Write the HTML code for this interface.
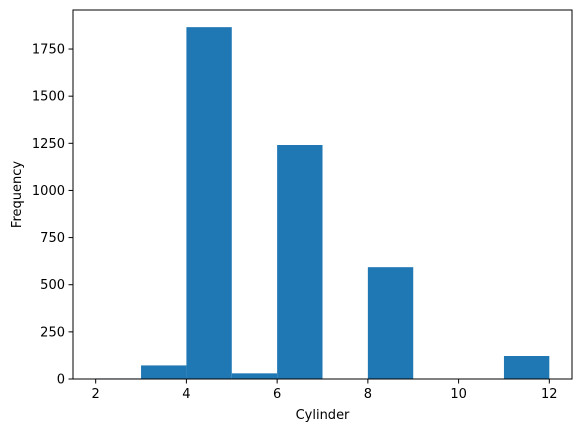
<!DOCTYPE html>
<html><head><meta charset="utf-8"><style>
body{margin:0;background:#fff;font-family:"DejaVu Sans","Liberation Sans",sans-serif;}
</style></head><body>
<svg id="chart" width="580" height="432" xmlns="http://www.w3.org/2000/svg" font-family="DejaVu Sans, Liberation Sans, sans-serif"></svg>
<script>
const binStarts=[2,3,4,5,6,7,8,9,10,11];
const frequencies=[3,72,1866,30,1241,0,593,0,0,122];
const xTicks=[2,4,6,8,10,12];
const yTicks=[0,250,500,750,1000,1250,1500,1750];
const L=73,R=572,T=10,B=379;
const xMin=1.5,xMax=12.5,yMax=1957;
const sx=v=>L+(v-xMin)/(xMax-xMin)*(R-L);
const sy=v=>B-v/yMax*(B-T);
const svg=document.getElementById('chart');
const NS='http://www.w3.org/2000/svg';
function mk(tag,attrs,parent){const e=document.createElementNS(NS,tag);for(const k in attrs)e.setAttribute(k,attrs[k]);(parent||svg).appendChild(e);return e;}
const bars=mk('g',{});


binStarts.forEach((s,i)=>{
  const v=frequencies[i];
  const r=mk('rect',{x:sx(s),y:sy(v),width:sx(s+1)-sx(s),height:B-sy(v),fill:'#1f77b4'},bars);
  
  
});
const frame=mk('rect',{x:L,y:T,width:R-L,height:B-T,fill:'none',stroke:'#000','stroke-width':1});


xTicks.forEach(t=>{
  const x=sx(t);
  mk('line',{x1:x,x2:x,y1:B,y2:B+4.5,stroke:'#000','stroke-width':1});
  const tx=mk('text',{x:x,y:B+19,'text-anchor':'middle','font-size':13,fill:'#000'});
  tx.textContent=t;
  
  
});
yTicks.forEach(t=>{
  const y=sy(t);
  mk('line',{x1:L-4.5,x2:L,y1:y,y2:y,stroke:'#000','stroke-width':1});
  const tx=mk('text',{x:L-8,y:y+4.5,'text-anchor':'end','font-size':13,fill:'#000'});
  tx.textContent=t;
  
  
});
const xt=mk('text',{x:(L+R)/2,y:419,'text-anchor':'middle','font-size':13,fill:'#000'});
xt.textContent='Cylinder';


const yt=mk('text',{x:21,y:(T+B)/2,'text-anchor':'middle','font-size':13,fill:'#000',transform:'rotate(-90 21 '+((T+B)/2)+')'});
yt.textContent='Frequency';


</script>
</body></html>
